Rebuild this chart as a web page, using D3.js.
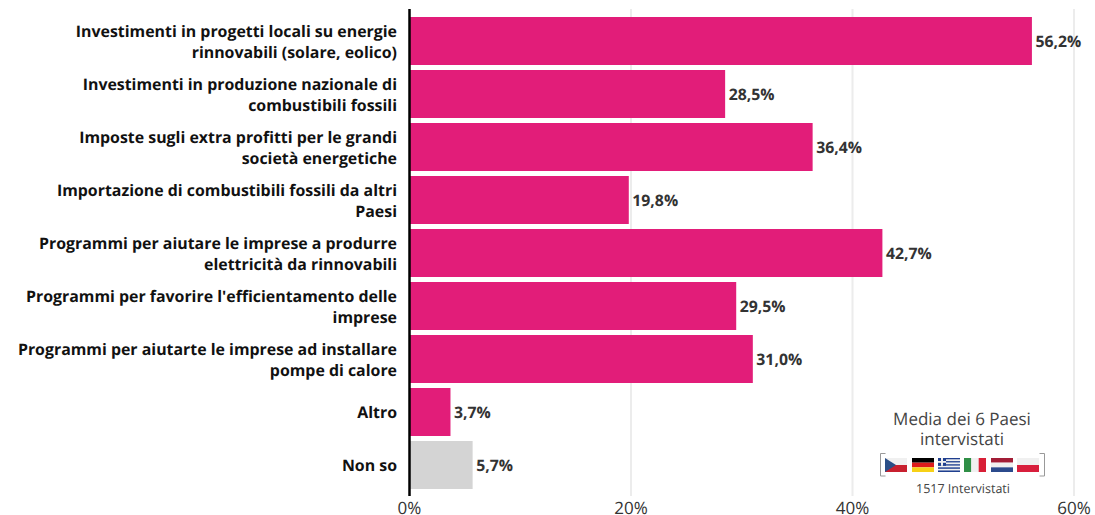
<!DOCTYPE html>
<html>
<head>
<meta charset="utf-8">
<script src="https://cdn.jsdelivr.net/npm/d3@7/dist/d3.min.js"></script>
<style>
html,body{margin:0;padding:0;background:#fff}
svg{display:block;font-family:"Open Sans",sans-serif;text-rendering:geometricPrecision}
</style>
</head>
<body>
<svg id="chart" width="1095" height="515"></svg>
<script>
const categories = [
  ["Investimenti in progetti locali su energie", "rinnovabili (solare, eolico)"],
  ["Investimenti in produzione nazionale di", "combustibili fossili"],
  ["Imposte sugli extra profitti per le grandi", "società energetiche"],
  ["Importazione di combustibili fossili da altri", "Paesi"],
  ["Programmi per aiutare le imprese a produrre", "elettricità da rinnovabili"],
  ["Programmi per favorire l'efficientamento delle", "imprese"],
  ["Programmi per aiutarte le imprese ad installare", "pompe di calore"],
  ["Altro"],
  ["Non so"]
];
const values = [56.2, 28.5, 36.4, 19.8, 42.7, 29.5, 31.0, 3.7, 5.7];
const tickValues = [0, 20, 40, 60];
const noteLines = ["Media dei 6 Paesi", "intervistati"];
const respondents = "1517 Intervistati";

const pink = "#e21d79", grey = "#d4d4d4";
const svg = d3.select("#chart");
const fmt = v => v.toFixed(1).replace(".", ",") + "%";

const x = d3.scaleLinear().domain([0, 60]).range([409.5, 1074]);
const y = d3.scaleBand().domain(d3.range(values.length)).range([14.5, 491.5]).paddingInner(5 / 53).paddingOuter(2.5 / 53);

// vertical gridlines behind the bars
svg.append("g").selectAll("line").data(tickValues.slice(1)).join("line")
  .attr("x1", x).attr("x2", x).attr("y1", 9).attr("y2", 496)
  .attr("stroke", "#ececec").attr("stroke-width", 2);

// bars
svg.append("g").selectAll("rect").data(values).join("rect")
  .attr("x", x(0)).attr("y", (d, i) => y(i))
  .attr("width", d => x(d) - x(0)).attr("height", y.bandwidth())
  .attr("fill", (d, i) => i === values.length - 1 ? grey : pink);

// value labels
svg.append("g").selectAll("text").data(values).join("text")
  .attr("x", d => x(d) + 3.5).attr("y", (d, i) => y(i) + y.bandwidth() / 2 + 5.5)
  .attr("font-size", 15.8).attr("font-weight", 700).attr("fill", "#333")
  .text(fmt);

// category labels, right aligned against the axis
const labels = svg.append("g").selectAll("text").data(categories).join("text")
  .attr("text-anchor", "end").attr("font-size", 15.9).attr("font-weight", 700).attr("fill", "#111");
labels.each(function (lines, i) {
  const cy = y(i) + y.bandwidth() / 2;
  d3.select(this).selectAll("tspan").data(lines).join("tspan")
    .attr("x", 397)
    .attr("y", (l, k) => cy + 6 + (k - (lines.length - 1) / 2) * 21)
    .text(l => l);
});

// zero axis line
svg.append("line").attr("x1", x(0)).attr("x2", x(0)).attr("y1", 9).attr("y2", 496)
  .attr("stroke", "#000").attr("stroke-width", 2.5);

// x axis tick labels
svg.append("g").selectAll("text").data(tickValues).join("text")
  .attr("x", x).attr("y", 514).attr("text-anchor", "middle")
  .attr("font-size", 17).attr("fill", "#333").text(d => d + "%");

// annotation block
svg.append("g").selectAll("text").data(noteLines).join("text")
  .attr("x", 962).attr("y", (d, i) => 425 + i * 20).attr("text-anchor", "middle")
  .attr("font-size", 17).attr("fill", "#444").text(d => d);
svg.append("text").attr("x", 963).attr("y", 493).attr("text-anchor", "middle")
  .attr("font-size", 12.5).attr("fill", "#444").text(respondents);

// brackets around the flag row
const bracket = (xEdge, dir) => svg.append("path")
  .attr("d", `M${xEdge + dir * 5},453.5H${xEdge}V476H${xEdge + dir * 5}`)
  .attr("fill", "none").attr("stroke", "#999").attr("stroke-width", 1);
bracket(880.5, 1);
bracket(1044.5, -1);

// flags: x offset of each flag and its stripes
const flagW = 22, flagH = 14, flagTop = 458;
const flagX = [885, 912, 938, 964, 991, 1017];
const flags = [
  { stripes: ["#f0f0f0", "#c8202f"], triangle: "#2a4e87" },
  { stripes: ["#000000", "#dd1c1c", "#f7d117"] },
  { stripes: ["#1f3f8f", "#f0f0f0", "#1f3f8f", "#f0f0f0", "#1f3f8f", "#f0f0f0", "#1f3f8f", "#f0f0f0", "#1f3f8f"], canton: true },
  { columns: ["#2f8f46", "#f0f0f0", "#d81f36"] },
  { stripes: ["#a21d36", "#f0f0f0", "#2b4a8c"] },
  { stripes: ["#f0f0f0", "#d81f3c"] }
];
flags.forEach((f, i) => {
  const g = svg.append("g").attr("transform", `translate(${flagX[i]},${flagTop})`);
  if (f.stripes) {
    const band = d3.scaleBand().domain(d3.range(f.stripes.length)).range([0, flagH]);
    g.selectAll("rect").data(f.stripes).join("rect")
      .attr("width", flagW).attr("y", (c, k) => band(k)).attr("height", band.bandwidth()).attr("fill", c => c);
  }
  if (f.columns) {
    const band = d3.scaleBand().domain(d3.range(f.columns.length)).range([0, flagW]);
    g.selectAll("rect").data(f.columns).join("rect")
      .attr("height", flagH).attr("x", (c, k) => band(k)).attr("width", band.bandwidth()).attr("fill", c => c);
  }
  if (f.triangle) {
    g.append("path").attr("d", `M0,0L${flagW / 2},${flagH / 2}L0,${flagH}Z`).attr("fill", f.triangle);
  }
  if (f.canton) {
    g.append("rect").attr("width", 8).attr("height", 7.8).attr("fill", "#1f3f8f");
    g.append("rect").attr("x", 3).attr("width", 2).attr("height", 7.8).attr("fill", "#f0f0f0");
    g.append("rect").attr("y", 3).attr("width", 8).attr("height", 1.8).attr("fill", "#f0f0f0");
  }
});
</script>
</body>
</html>
